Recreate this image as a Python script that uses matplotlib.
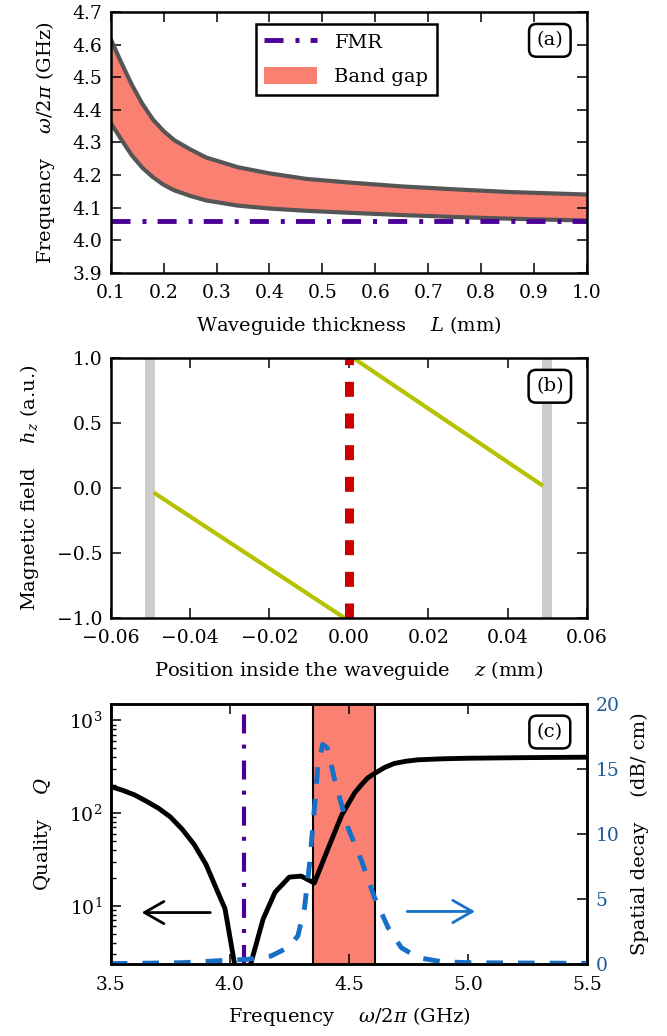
import matplotlib
matplotlib.use('Agg')
import matplotlib.pyplot as plt
from matplotlib.patches import Patch
from matplotlib.lines import Line2D

# ---------------- data ----------------
# panel (a): band gap edges vs waveguide thickness
thickness_mm = [0.1, 0.12, 0.14, 0.16, 0.18, 0.2, 0.22, 0.25, 0.28, 0.34, 0.4, 0.47, 0.55,
                0.65, 0.75, 0.85, 1.0]
gap_upper_ghz = [4.618, 4.545, 4.477, 4.418, 4.37, 4.335, 4.307, 4.279, 4.254, 4.224, 4.205,
                 4.188, 4.177, 4.165, 4.156, 4.148, 4.14]
gap_lower_ghz = [4.36, 4.309, 4.26, 4.222, 4.193, 4.17, 4.153, 4.136, 4.122, 4.106, 4.097,
                 4.09, 4.084, 4.077, 4.071, 4.066, 4.06]
fmr_ghz = 4.06

# panel (b): field profile inside the waveguide
z_left_mm = [-0.0487, -0.0012]
h_left = [-0.045, -1.0]
z_right_mm = [0.0012, 0.0485]
h_right = [1.0, 0.025]
boundaries_mm = [-0.05, 0.05]
center_mm = 0.0

# panel (c): quality factor and spatial decay vs frequency
freq_q = [3.5, 3.55, 3.6, 3.65, 3.7, 3.75, 3.8, 3.85, 3.9, 3.95, 3.98, 4.025, 4.08, 4.14, 4.19,
          4.25, 4.30, 4.355, 4.41, 4.47, 4.525, 4.555, 4.58, 4.61, 4.65, 4.69, 4.74, 4.79, 4.9,
          5.0, 5.25, 5.5]
quality = [193, 176, 157, 134, 113, 91, 67, 46, 28, 14, 9.3, 2.0, 2.0, 7.2, 14,
           20.4, 20.9, 17.6, 39.8, 95, 166, 205, 240, 269, 310, 342, 362, 375, 385,
           390, 396, 400]
freq_decay = [3.5, 3.8, 3.95, 4.075, 4.174, 4.244, 4.286, 4.314, 4.335, 4.356, 4.37, 4.39,
              4.41, 4.44, 4.496, 4.553, 4.608, 4.665, 4.72, 4.79, 4.89, 5.0, 5.5]
decay_db_cm = [0.03, 0.1, 0.25, 0.36, 0.62, 1.26, 2.16, 4.35, 7.7, 12.1, 15.2, 16.9,
               16.6, 14.2, 10.5, 7.95, 5.1, 2.8, 1.26, 0.49, 0.18, 0.1, 0.05]
band_gap_ghz = [4.35, 4.61]

# ---------------- style ----------------
FS = 14
plt.rcParams.update({
    'font.family': ['DejaVu Serif'],
    'font.size': FS,
    'mathtext.fontset': 'dejavuserif',
    'axes.linewidth': 1.8,
    'xtick.direction': 'in', 'ytick.direction': 'in',
    'xtick.top': True, 'ytick.right': True,
    'xtick.major.size': 7, 'ytick.major.size': 7,
    'xtick.minor.size': 3.5, 'ytick.minor.size': 3.5,
    'xtick.major.width': 1.1, 'ytick.major.width': 1.1,
    'xtick.minor.width': 1.0, 'ytick.minor.width': 1.0,
    'xtick.major.pad': 8.5, 'ytick.major.pad': 6,
    'xtick.labelsize': 13.5, 'ytick.labelsize': 13.5,
    'axes.labelpad': 8,
    'lines.scale_dashes': False,
    'axes.unicode_minus': True,
})

SALMON = '#fa8072'
EDGE = '#555555'
PURPLE = '#4b0096'
YGREEN = '#b5c200'
RED = '#cc0000'
GREY = '#cccccc'
BLUE = '#1670c8'
BLUE_TXT = '#1c5a96'
FMR_DASH = (0, (13.7, 8.6, 2.9, 8.0))
YPAD = 11

fig = plt.figure(figsize=(6.67, 10.36), dpi=100)
L, W = 0.166, 0.714
axa = fig.add_axes([L, 0.7368, W, 0.2514])
axb = fig.add_axes([L, 0.4038, W, 0.2504])
axc = fig.add_axes([L, 0.0695, W, 0.2510])


def panel_label(ax, s):
    ax.text(0.922, 0.892, s, transform=ax.transAxes, ha='center', va='center', fontsize=FS,
            bbox=dict(boxstyle='round,pad=0.38', fc='white', ec='black', lw=1.8), zorder=10)

# ---- (a)
axa.fill_between(thickness_mm, gap_lower_ghz, gap_upper_ghz, color=SALMON, lw=0)
axa.plot(thickness_mm, gap_upper_ghz, color=EDGE, lw=3)
axa.plot(thickness_mm, gap_lower_ghz, color=EDGE, lw=3)
axa.axhline(fmr_ghz, color=PURPLE, lw=3.5, linestyle=FMR_DASH)
axa.set_xlim(0.1, 1.0)
axa.set_ylim(3.9, 4.7)
axa.set_xticks([0.1, 0.2, 0.3, 0.4, 0.5, 0.6, 0.7, 0.8, 0.9, 1.0])
axa.set_yticks([3.9, 4.0, 4.1, 4.2, 4.3, 4.4, 4.5, 4.6, 4.7])
axa.set_xlabel(r'Waveguide thickness    $L$ (mm)')
axa.set_ylabel(r'Frequency    $\omega/2\pi$ (GHz)', labelpad=YPAD)
handles = [Line2D([], [], color=PURPLE, lw=3.5, linestyle=FMR_DASH),
           Patch(facecolor=SALMON, edgecolor='none')]
leg = axa.legend(handles, ['FMR', 'Band gap'], loc='upper center', bbox_to_anchor=(0.495, 0.955),
                 borderaxespad=0, frameon=True, fancybox=False, framealpha=1, edgecolor='black',
                 borderpad=0.45, labelspacing=0.75, handlelength=2.7, handleheight=1.0,
                 handletextpad=0.9, fontsize=FS)
leg.get_frame().set_linewidth(1.8)
panel_label(axa, '(a)')

# ---- (b)
for zb in boundaries_mm:
    axb.axvline(zb, color=GREY, lw=7.2)
axb.plot(z_left_mm, h_left, color=YGREEN, lw=3)
axb.plot(z_right_mm, h_right, color=YGREEN, lw=3)
axb.axvline(center_mm, color=RED, lw=6.5, linestyle=(0, (10.8, 12.0)))
axb.set_xlim(-0.06, 0.06)
axb.set_ylim(-1.0, 1.0)
axb.set_xticks([-0.06, -0.04, -0.02, 0.0, 0.02, 0.04, 0.06])
axb.set_xticklabels(['\u22120.06', '\u22120.04', '\u22120.02', '0.00', '0.02', '0.04', '0.06'])
axb.set_yticks([-1.0, -0.5, 0.0, 0.5, 1.0])
axb.set_yticklabels(['\u22121.0', '\u22120.5', '0.0', '0.5', '1.0'])
axb.set_xlabel(r'Position inside the waveguide    $z$ (mm)')
axb.set_ylabel(r'Magnetic field    $h_z$ (a.u.)', labelpad=YPAD)
panel_label(axb, '(b)')

# ---- (c)
axc.axvspan(band_gap_ghz[0], band_gap_ghz[1], color=SALMON, lw=0)
for fb in band_gap_ghz:
    axc.axvline(fb, color='black', lw=1.5)
axc.axvline(fmr_ghz, color=PURPLE, lw=3, linestyle=FMR_DASH)
axc.plot(freq_q, quality, color='black', lw=3.5, zorder=4)
axc.set_yscale('log')
axc.set_xlim(3.5, 5.5)
axc.set_ylim(2.36, 1500)
axc.set_xticks([3.5, 4.0, 4.5, 5.0, 5.5])
axc.set_xlabel(r'Frequency    $\omega/2\pi$ (GHz)')
axc.set_ylabel(r'Quality    $Q$', labelpad=YPAD)
axc.annotate('', xy=(3.63, 8.46), xytext=(3.918, 8.46),
             arrowprops=dict(arrowstyle='->,head_length=0.7,head_width=0.4', color='black', lw=2,
                             mutation_scale=20, shrinkA=0, shrinkB=0))

ax2 = axc.twinx()
ax2.plot(freq_decay, decay_db_cm, color=BLUE, lw=3.5, linestyle=(0, (12.0, 10.8)))
ax2.set_ylim(0, 20)
ax2.set_yticks([0, 5, 10, 15, 20])
ax2.tick_params(axis='y', colors=BLUE_TXT, labelcolor=BLUE_TXT)
ax2.tick_params(axis='y', color='black')
ax2.set_ylabel('Spatial decay    (dB/ cm)')
ax2.annotate('', xy=(5.03, 4.04), xytext=(4.745, 4.04),
             arrowprops=dict(arrowstyle='->,head_length=0.7,head_width=0.4', color=BLUE, lw=2,
                             mutation_scale=20, shrinkA=0, shrinkB=0))
for sp in ax2.spines.values():
    sp.set_linewidth(1.8)
panel_label(ax2, '(c)')

fig.savefig('out.png', dpi=100)
